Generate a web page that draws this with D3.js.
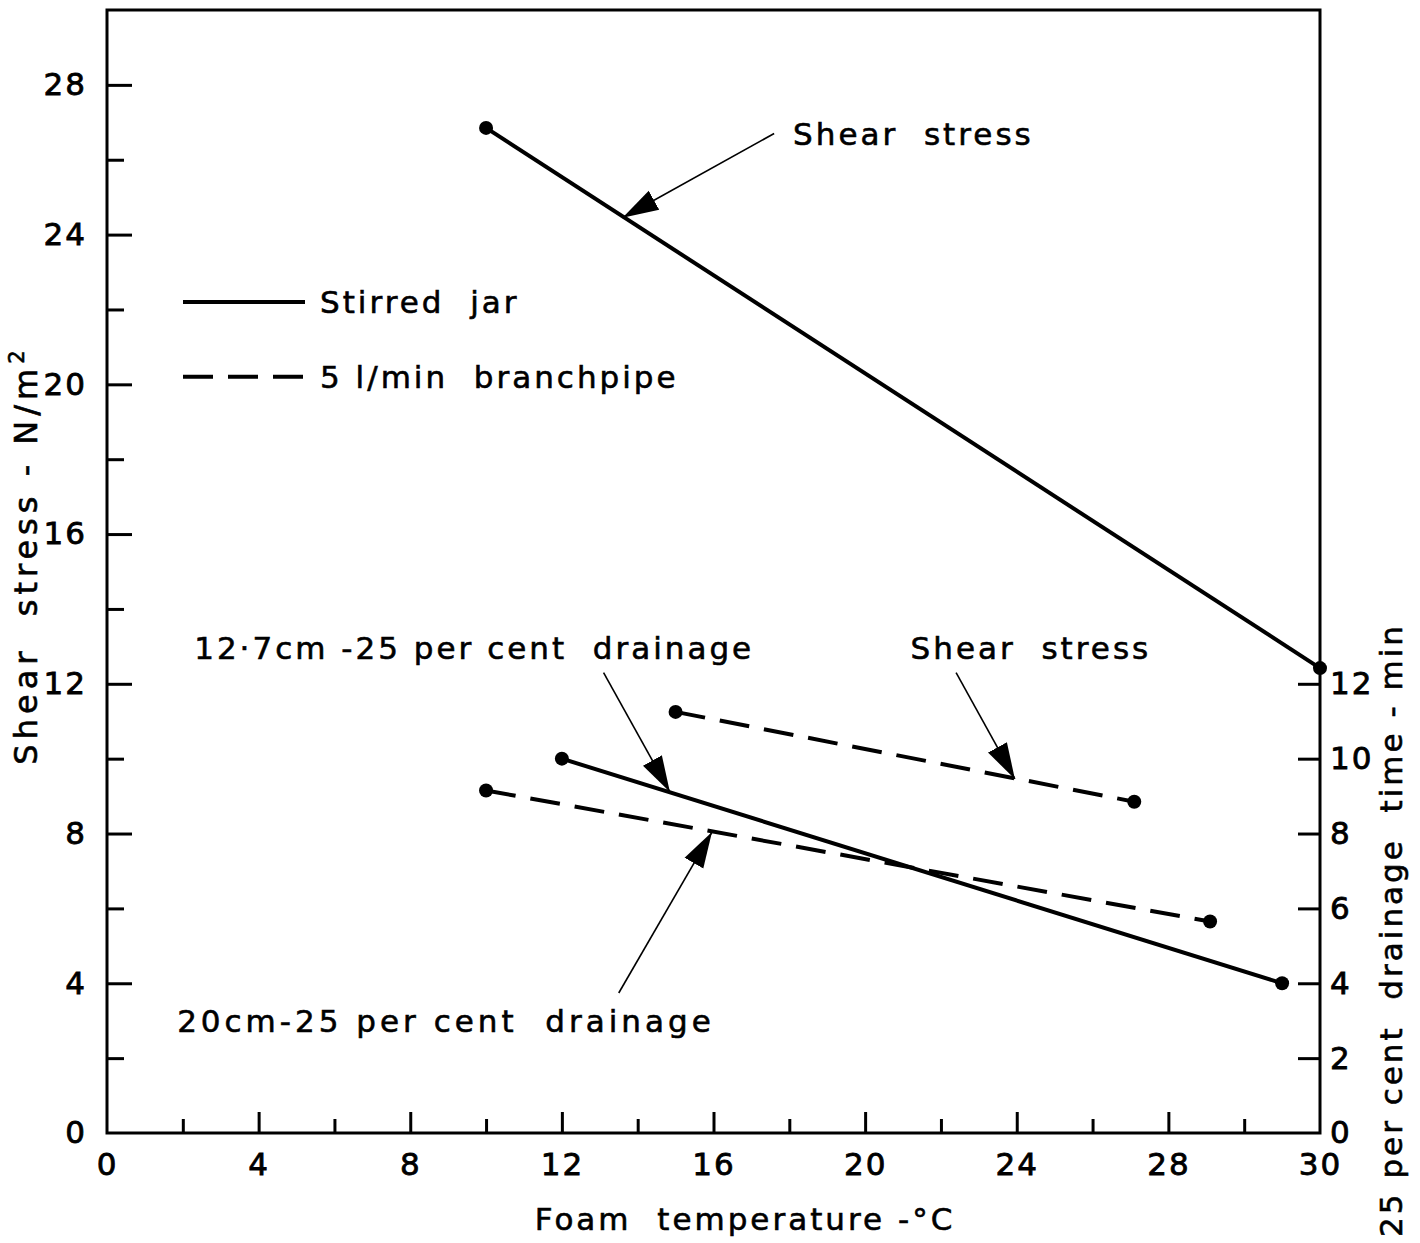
<!DOCTYPE html>
<html>
<head>
<meta charset="utf-8">
<script src="https://cdn.jsdelivr.net/npm/d3@7"></script>
<style>
  body { margin: 0; background: #fff; }
  text { font-family: "DejaVu Sans", sans-serif; fill: #000; white-space: pre; stroke: #000; stroke-width: 0.6px; }
</style>
</head>
<body>
<div id="chart"></div>
<script>
// data (x = foam temperature, y = shear stress or drainage time)
var stirredShear = [[10, 26.85], [32, 12.42]];
var stirredDrain = [[12, 10.0], [31, 4.0]];
var branchShear = [[15, 11.25], [27.1, 8.85]];
var branchDrain = [[10, 9.15], [29.1, 5.65]];

var xTickLabels = ["0", "4", "8", "12", "16", "20", "24", "28", "30"];
var xTickValues = [0, 4, 8, 12, 16, 20, 24, 28, 32];
var leftTicks = [0, 4, 8, 12, 16, 20, 24, 28];
var rightTicks = [0, 2, 4, 6, 8, 10, 12];

// annotation text and arrows (tail -> tip, data units)
var notes = [
    { text: "Shear  stress", x: 18.1, y: 26.7, sp: 3, tail: [17.6, 26.7], tip: [13.6, 24.45] },
    { text: "12\u00b77cm -25 per cent  drainage", x: 2.3, y: 12.95, sp: 3, tail: [13.1, 12.3], tip: [14.85, 9.11] },
    { text: "Shear  stress", x: 21.2, y: 12.95, sp: 3, tail: [22.4, 12.3], tip: [23.95, 9.46] },
    { text: "20cm-25 per cent  drainage", x: 1.85, y: 3.0, sp: 4, tail: [13.5, 3.74], tip: [15.96, 8.04] }
];

var w = 1420, h = 1243;
var mLeft = 107, mRight = 1320, mTop = 10, mBottom = 1133;

var x = d3.scaleLinear().domain([0, 32]).range([mLeft, mRight]);
var y = d3.scaleLinear().domain([0, 30]).range([mBottom, mTop]);

var svg = d3.select("#chart").append("svg")
    .attr("width", w)
    .attr("height", h);

svg.append("defs").append("marker")
    .attr("id", "arrow")
    .attr("viewBox", "0 0 10 10")
    .attr("refX", 10)
    .attr("refY", 5)
    .attr("markerWidth", 36)
    .attr("markerHeight", 36)
    .attr("markerUnits", "userSpaceOnUse")
    .attr("orient", "auto")
    .append("path")
    .attr("d", "M0,2 L10,5 L0,8 Z")
    .attr("fill", "#000");

// frame
svg.append("rect")
    .attr("x", mLeft).attr("y", mTop)
    .attr("width", mRight - mLeft).attr("height", mBottom - mTop)
    .attr("fill", "none").attr("stroke", "#000").attr("stroke-width", 3);

function styleAxis(g) {
    g.select(".domain").remove();
    g.selectAll(".tick line").attr("stroke", "#000").attr("stroke-width", 3);
    g.selectAll(".tick text")
        .style("font-size", "31px")
        .style("font-family", "DejaVu Sans, sans-serif")
        .style("letter-spacing", "2px")
        .style("stroke-width", "0.8px")
        .attr("fill", "#000");
}

// bottom axis: minor then major ticks pointing inward
svg.append("g").attr("transform", "translate(0," + mBottom + ")")
    .call(d3.axisBottom(x).tickValues(d3.range(2, 31, 4)).tickSize(-14).tickFormat(""))
    .call(styleAxis);
svg.append("g").attr("transform", "translate(0," + mBottom + ")")
    .call(d3.axisBottom(x).tickValues(xTickValues.slice(1, -1)).tickSize(-21).tickFormat(""))
    .call(styleAxis);
svg.append("g").attr("transform", "translate(0," + mBottom + ")")
    .call(d3.axisBottom(x).tickValues(xTickValues).tickSize(0).tickPadding(20)
        .tickFormat((d, i) => xTickLabels[i]))
    .call(styleAxis);

// left axis
svg.append("g").attr("transform", "translate(" + mLeft + ",0)")
    .call(d3.axisLeft(y).tickValues(d3.range(2, 29, 4)).tickSize(-17).tickFormat(""))
    .call(styleAxis);
svg.append("g").attr("transform", "translate(" + mLeft + ",0)")
    .call(d3.axisLeft(y).tickValues(leftTicks.slice(1)).tickSize(-25).tickFormat(""))
    .call(styleAxis);
svg.append("g").attr("transform", "translate(" + mLeft + ",0)")
    .call(d3.axisLeft(y).tickValues(leftTicks).tickSize(0).tickPadding(20))
    .call(styleAxis);

// right axis
svg.append("g").attr("transform", "translate(" + mRight + ",0)")
    .call(d3.axisRight(y).tickValues(rightTicks.slice(1)).tickSize(-22).tickFormat(""))
    .call(styleAxis);
svg.append("g").attr("transform", "translate(" + mRight + ",0)")
    .call(d3.axisRight(y).tickValues(rightTicks).tickSize(0).tickPadding(10))
    .call(styleAxis);

// axis titles
svg.append("text")
    .attr("x", 745).attr("y", 1230)
    .attr("text-anchor", "middle")
    .style("font-size", "31px").style("letter-spacing", "3px")
    .text("Foam  temperature -\u00b0C");

var lt = svg.append("text")
    .attr("transform", "translate(37,555) rotate(-90)")
    .attr("text-anchor", "middle")
    .style("font-size", "32px").style("letter-spacing", "5px");
lt.append("tspan").text("Shear  stress - N/m");
lt.append("tspan").attr("dy", -13).style("font-size", "21px").text("2");

svg.append("text")
    .attr("transform", "translate(1402,930) rotate(-90)")
    .attr("text-anchor", "middle")
    .style("font-size", "31px").style("letter-spacing", "3px")
    .text("25 per cent  drainage  time - min");

// lines
var line = d3.line().x(d => x(d[0])).y(d => y(d[1]));
var series = [
    { data: stirredShear, dash: null },
    { data: stirredDrain, dash: null },
    { data: branchShear, dash: "30,15" },
    { data: branchDrain, dash: "30,15" }
];
series.forEach(function (s) {
    svg.append("path")
        .datum(s.data)
        .attr("d", line)
        .attr("fill", "none")
        .attr("stroke", "#000")
        .attr("stroke-width", 4)
        .attr("stroke-dasharray", s.dash);
    svg.selectAll(null)
        .data(s.data)
        .enter()
        .append("circle")
        .attr("cx", d => x(d[0]))
        .attr("cy", d => y(d[1]))
        .attr("r", 7)
        .attr("fill", "#000");
});

// legend
var legend = [
    { label: "Stirred  jar", dash: null, yv: 22.2 },
    { label: "5 l/min  branchpipe", dash: "30,15", yv: 20.2 }
];
legend.forEach(function (l) {
    svg.append("line")
        .attr("x1", 183).attr("x2", 305)
        .attr("y1", y(l.yv)).attr("y2", y(l.yv))
        .attr("stroke", "#000").attr("stroke-width", 4)
        .attr("stroke-dasharray", l.dash);
    svg.append("text")
        .attr("x", 320).attr("y", y(l.yv) + 11)
        .style("font-size", "31px").style("letter-spacing", "3px")
        .text(l.label);
});

// annotations
notes.forEach(function (n) {
    svg.append("text")
        .attr("x", x(n.x)).attr("y", y(n.y) + 11)
        .style("font-size", "31px").style("letter-spacing", n.sp + "px")
        .text(n.text);
    svg.append("line")
        .attr("x1", x(n.tail[0])).attr("y1", y(n.tail[1]))
        .attr("x2", x(n.tip[0])).attr("y2", y(n.tip[1]))
        .attr("stroke", "#000").attr("stroke-width", 1.6)
        .attr("marker-end", "url(#arrow)");
});
</script>
</body>
</html>
